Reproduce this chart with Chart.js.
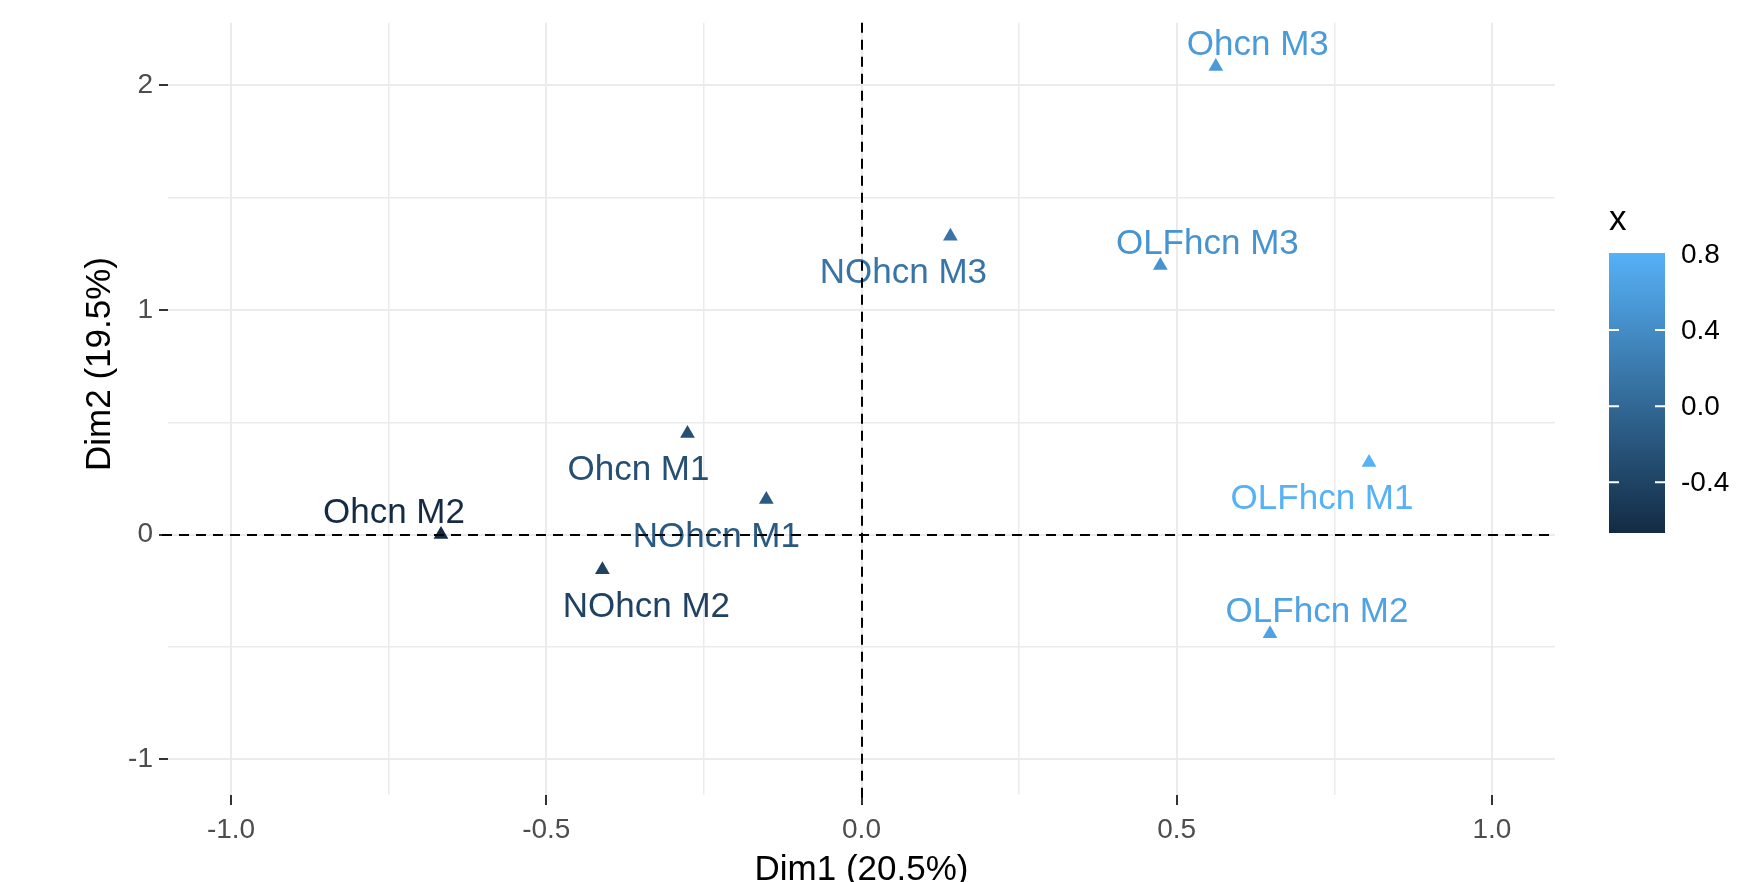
<!DOCTYPE html>
<html>
<head>
<meta charset="utf-8">
<script src="https://cdn.jsdelivr.net/npm/chart.js@4"></script>
<style>
  html, body { margin: 0; padding: 0; background: #fff; }
  canvas { display: block; }
</style>
</head>
<body>
<canvas id="chart" width="1758" height="882"></canvas>
<script>
// individuals on the first factorial plane
const names = ['Ohcn M1', 'Ohcn M2', 'Ohcn M3', 'NOhcn M1', 'NOhcn M2', 'NOhcn M3', 'OLFhcn M1', 'OLFhcn M2', 'OLFhcn M3'];
const dim1 = [-0.276, -0.667, 0.562, -0.151, -0.411, 0.141, 0.805, 0.648, 0.474];
const dim2 = [0.450, 0.000, 2.084, 0.156, -0.157, 1.328, 0.321, -0.442, 1.198];
const xTitle = 'Dim1 (20.5%)';
const yTitle = 'Dim2 (19.5%)';
const colourTitle = 'x';
const colourTicks = [0.8, 0.4, 0.0, -0.4];

// where the repelled text sits relative to its point (px)
const labelDx = [-49, -47, 42, -50, 44, -47, -47, 47, 47];
const labelDy = [35, -24, -24, 35, 35, 35, 35, -24, -24];

const FONT = "'Liberation Sans', Arial, sans-serif";
const low = [0x13, 0x2B, 0x43], high = [0x56, 0xB1, 0xF7];
const cMin = Math.min(...dim1), cMax = Math.max(...dim1);

function colourFor(v) {
  const t = (v - cMin) / (cMax - cMin);
  const c = low.map((l, k) => Math.round(l + (high[k] - l) * t));
  return `rgb(${c.join(',')})`;
}
const isHalf = v => Math.abs(v * 2 - Math.round(v * 2)) < 1e-9;
const isWhole = v => Math.abs(v - Math.round(v)) < 1e-9;

const overlay = {
  id: 'overlay',
  afterDatasetsDraw(chart) {
    const { ctx, chartArea: a, scales: { x, y } } = chart;
    ctx.save();

    // point labels
    ctx.font = `35px ${FONT}`;
    ctx.textAlign = 'center';
    ctx.textBaseline = 'alphabetic';
    names.forEach((t, i) => {
      ctx.fillStyle = colourFor(dim1[i]);
      ctx.fillText(t, x.getPixelForValue(dim1[i]) + labelDx[i], y.getPixelForValue(dim2[i]) + labelDy[i] + 12);
    });

    // dashed lines through the origin
    const x0 = Math.round(x.getPixelForValue(0)), y0 = Math.round(y.getPixelForValue(0));
    ctx.strokeStyle = '#000';
    ctx.lineWidth = 2;
    ctx.setLineDash([10, 7]);
    ctx.beginPath();
    ctx.moveTo(a.left - 6, y0); ctx.lineTo(a.right, y0);
    ctx.moveTo(x0, a.top); ctx.lineTo(x0, a.bottom + 10);
    ctx.stroke();
    ctx.setLineDash([]);

    // y axis title
    ctx.save();
    ctx.translate(100, 364);
    ctx.rotate(-Math.PI / 2);
    ctx.fillStyle = '#000';
    ctx.font = `35px ${FONT}`;
    ctx.textBaseline = 'middle';
    ctx.fillText(yTitle, 0, 0);
    ctx.restore();

    // colour bar
    const bx = 1609, bw = 56, top = 253, bottom = 533;
    const grad = ctx.createLinearGradient(0, bottom, 0, top);
    grad.addColorStop(0, colourFor(cMin));
    grad.addColorStop(1, colourFor(cMax));
    ctx.fillStyle = grad;
    ctx.fillRect(bx, top, bw, bottom - top);

    ctx.fillStyle = '#000';
    ctx.textAlign = 'left';
    ctx.textBaseline = 'alphabetic';
    ctx.font = `35px ${FONT}`;
    ctx.fillText(colourTitle, bx, 230);

    ctx.font = `28px ${FONT}`;
    ctx.textBaseline = 'middle';
    ctx.strokeStyle = '#fff';
    ctx.lineWidth = 2;
    colourTicks.forEach(t => {
      const py = bottom - (t - cMin) / (cMax - cMin) * (bottom - top);
      if (py > top + 2) {
        ctx.beginPath();
        ctx.moveTo(bx, py); ctx.lineTo(bx + 10, py);
        ctx.moveTo(bx + bw - 10, py); ctx.lineTo(bx + bw, py);
        ctx.stroke();
      }
      ctx.fillText(t.toFixed(1), bx + bw + 16, py + 1);
    });

    ctx.restore();
  }
};

new Chart(document.getElementById('chart'), {
  type: 'scatter',
  data: {
    datasets: [{
      data: dim1.map((v, i) => ({ x: v, y: dim2[i] })),
      pointStyle: 'triangle',
      pointRadius: 8.5,
      pointBorderWidth: 0,
      pointBackgroundColor: dim1.map(colourFor),
      pointBorderColor: dim1.map(colourFor)
    }]
  },
  options: {
    responsive: false,
    animation: false,
    devicePixelRatio: 1,
    layout: { padding: { top: 19, right: 203, left: 0, bottom: 0 } },
    plugins: { legend: { display: false }, tooltip: { enabled: false } },
    scales: {
      x: {
        type: 'linear', min: -1.1, max: 1.1,
        border: { display: false },
        grid: {
          color: '#EBEBEB',
          lineWidth: c => (c.tick && isHalf(c.tick.value)) ? 2 : 1.5,
          tickColor: c => (c.tick && isHalf(c.tick.value)) ? '#333333' : 'rgba(0,0,0,0)',
          tickLength: 10,
          tickWidth: 2
        },
        ticks: {
          stepSize: 0.25, includeBounds: false, autoSkip: false, maxRotation: 0,
          color: '#4D4D4D', font: { family: FONT, size: 28 }, padding: 8,
          callback: v => isHalf(v) ? v.toFixed(1) : ''
        },
        title: {
          display: true, text: xTitle, color: '#000',
          font: { family: FONT, size: 35, lineHeight: 1 },
          padding: { top: 0, bottom: -6 }
        },
        afterFit: s => { s.height = 87; }
      },
      y: {
        type: 'linear', min: -1.16, max: 2.279,
        border: { display: false },
        grid: {
          color: '#EBEBEB',
          lineWidth: c => (c.tick && isWhole(c.tick.value)) ? 2 : 1.5,
          tickColor: c => (c.tick && isWhole(c.tick.value)) ? '#333333' : 'rgba(0,0,0,0)',
          tickLength: 9,
          tickWidth: 2
        },
        ticks: {
          stepSize: 0.5, includeBounds: false, autoSkip: false,
          color: '#4D4D4D', font: { family: FONT, size: 28 }, padding: 6,
          callback: v => isWhole(v) ? String(Math.round(v)) : ''
        },
        afterFit: s => { s.width = 168; }
      }
    }
  },
  plugins: [overlay]
});
</script>
</body>
</html>
